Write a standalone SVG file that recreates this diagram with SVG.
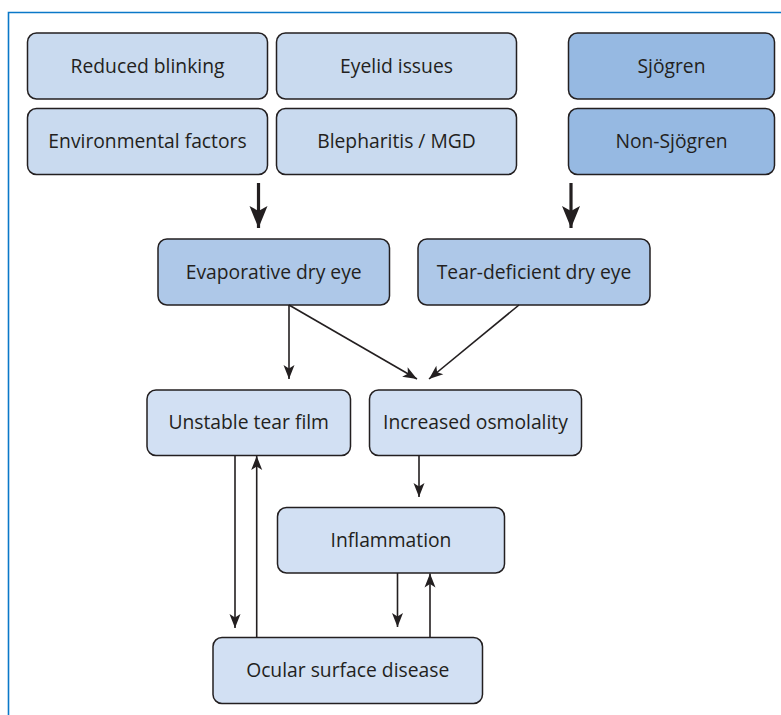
<svg xmlns="http://www.w3.org/2000/svg" width="781" height="715" viewBox="0 0 781 715">
  <style>
    .box { stroke: #231f20; stroke-width: 1.5; }
    .light { fill: #c9daef; }
    .pale { fill: #d2e0f3; }
    .mid { fill: #aec8e8; }
    .dark { fill: #96b9e2; }
    .label { font-family: "Open Sans", "Liberation Sans", sans-serif; font-size: 19.3px; fill: #231f20; text-anchor: middle; dominant-baseline: central; }
    .thin { stroke: #231f20; stroke-width: 1.6; fill: none; marker-end: url(#headThin); }
    .thick { stroke: #231f20; stroke-width: 3.2; fill: none; marker-end: url(#headThick); }
    .frame { stroke: #0a78c8; stroke-width: 1.6; fill: none; }
  </style>
  <defs>
    <marker id="headThin" markerUnits="userSpaceOnUse" viewBox="-15 -7 16 14" refX="0" refY="0" markerWidth="16" markerHeight="14" orient="auto">
      <path d="M0,0 L-14,-5.5 L-10.5,0 L-14,5.5 Z" fill="#231f20"/>
    </marker>
    <marker id="headThick" markerUnits="userSpaceOnUse" viewBox="-24 -10 25 20" refX="0" refY="0" markerWidth="25" markerHeight="20" orient="auto">
      <path d="M0,0 L-22,-9 L-17,0 L-22,9 Z" fill="#231f20"/>
    </marker>
  </defs>

  <rect width="781" height="715" fill="#ffffff"/>
  <!-- panel frame: top and left rules -->
  <path class="frame" d="M8.5,715 L8.5,12.5 L781,12.5"/>

  <!-- causes -->
  <g id="reduced-blinking">
    <rect class="box light" x="27.5" y="33" width="240" height="66" rx="9"/>
    <text class="label" x="147.5" y="65">Reduced blinking</text>
  </g>
  <g id="eyelid-issues">
    <rect class="box light" x="276.5" y="33" width="240" height="66" rx="9"/>
    <text class="label" x="396.5" y="65">Eyelid issues</text>
  </g>
  <g id="environmental-factors">
    <rect class="box light" x="27.5" y="108.5" width="240" height="66" rx="9"/>
    <text class="label" x="147.5" y="140.5">Environmental factors</text>
  </g>
  <g id="blepharitis-mgd">
    <rect class="box light" x="276.5" y="108.5" width="240" height="66" rx="9"/>
    <text class="label" x="396.5" y="140.5">Blepharitis / MGD</text>
  </g>
  <g id="sjogren">
    <rect class="box dark" x="568.5" y="33" width="206" height="66" rx="9"/>
    <text class="label" x="671.5" y="65">Sjögren</text>
  </g>
  <g id="non-sjogren">
    <rect class="box dark" x="568.5" y="108.5" width="206" height="66" rx="9"/>
    <text class="label" x="671.5" y="140.5">Non-Sjögren</text>
  </g>

  <!-- dry eye types -->
  <g id="evaporative">
    <rect class="box mid" x="158" y="239" width="231.5" height="66" rx="9"/>
    <text class="label" x="273.7" y="271">Evaporative dry eye</text>
  </g>
  <g id="tear-deficient">
    <rect class="box mid" x="418" y="239" width="232" height="66" rx="9"/>
    <text class="label" x="534" y="271">Tear-deficient dry eye</text>
  </g>

  <!-- mechanisms -->
  <g id="unstable-tear-film">
    <rect class="box pale" x="147" y="390" width="203.5" height="65.5" rx="9"/>
    <text class="label" x="248.7" y="421.5">Unstable tear film</text>
  </g>
  <g id="increased-osmolality">
    <rect class="box pale" x="369.5" y="390" width="212" height="65.5" rx="9"/>
    <text class="label" x="475.5" y="421.5">Increased osmolality</text>
  </g>
  <g id="inflammation">
    <rect class="box pale" x="277.5" y="507.5" width="227" height="65.5" rx="9"/>
    <text class="label" x="391" y="539">Inflammation</text>
  </g>
  <g id="ocular-surface-disease">
    <rect class="box pale" x="213" y="637.5" width="269.5" height="66" rx="9"/>
    <text class="label" x="347.7" y="669.5">Ocular surface disease</text>
  </g>

  <g id="connectors">
    <line class="thick" x1="258.5" y1="183" x2="258.5" y2="228"/>
    <line class="thick" x1="571" y1="183" x2="571" y2="228"/>
    <line class="thin" x1="289" y1="305" x2="289" y2="379"/>
    <line class="thin" x1="289" y1="305" x2="417" y2="379"/>
    <line class="thin" x1="519" y1="305" x2="429" y2="379"/>
    <line class="thin" x1="235" y1="455.5" x2="235" y2="628"/>
    <line class="thin" x1="256.7" y1="637.5" x2="256.7" y2="456"/>
    <line class="thin" x1="419" y1="455.5" x2="419" y2="497"/>
    <line class="thin" x1="397.5" y1="573" x2="397.5" y2="627"/>
    <line class="thin" x1="430" y1="637.5" x2="430" y2="573.5"/>
  </g>
</svg>
